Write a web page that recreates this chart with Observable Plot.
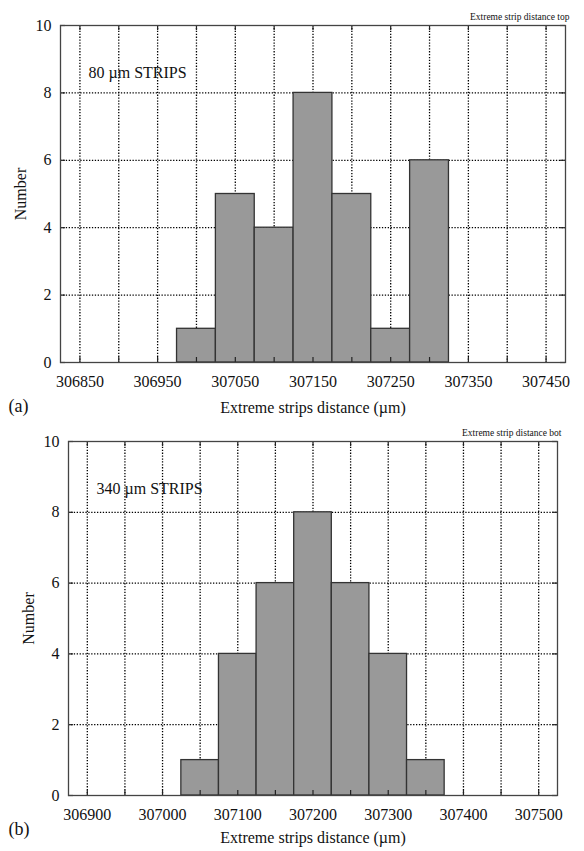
<!DOCTYPE html>
<html>
<head>
<meta charset="utf-8">
<script src="https://cdn.jsdelivr.net/npm/d3@7"></script>
<script src="https://cdn.jsdelivr.net/npm/@observablehq/plot@0.6"></script>
<style>
  html, body { margin: 0; padding: 0; background: #fff; }
  #wrap { width: 584px; height: 851px; position: relative; }
  #wrap svg { display: block; }
</style>
</head>
<body>
<div id="wrap"></div>
<script>
// ---- data ----
const binWidth = 50;
const binCentersTop = [307000, 307050, 307100, 307150, 307200, 307250, 307300];
const countsTop = [1, 5, 4, 8, 5, 1, 6];
const binCentersBot = [307050, 307100, 307150, 307200, 307250, 307300, 307350];
const countsBot = [1, 4, 6, 8, 6, 4, 1];
const xLabelTicksTop = [306850, 306950, 307050, 307150, 307250, 307350, 307450];
const xLabelTicksBot = [306900, 307000, 307100, 307200, 307300, 307400, 307500];
const xGridTop = d3.range(306850, 307451, 50);
const xGridBot = d3.range(306900, 307501, 50);
const yTicks = [0, 2, 4, 6, 8, 10];
const yGrid = [2, 4, 6, 8];
const xDomainTop = [306825, 307475];
const xDomainBot = [306875, 307525];

function hist({centers, counts, xDomain, labelTicks, gridTicks, height, margins, tag, strips, title}) {
  const data = centers.map((c, i) => ({x1: c - binWidth / 2, x2: c + binWidth / 2, n: counts[i]}));
  const plotH = height - margins.top - margins.bottom;
  const plotW = 584 - margins.left - margins.right;
  return Plot.plot({
    width: 584,
    height,
    marginTop: margins.top,
    marginBottom: margins.bottom,
    marginLeft: margins.left,
    marginRight: margins.right,
    style: {fontFamily: "'Liberation Serif', 'Times New Roman', serif", fontSize: "16px", color: "#111", background: "#fff"},
    x: {domain: xDomain, ticks: labelTicks, tickFormat: d => String(d), tickSize: 0, tickPadding: 13,
        label: "Extreme strips distance (µm)", labelAnchor: "center", labelOffset: margins.xLabelOffset, labelArrow: false},
    y: {domain: [0, 10], ticks: yTicks, tickSize: 0, tickPadding: 9,
        label: "Number", labelAnchor: "center", labelOffset: 46, labelArrow: false},
    marks: [
      Plot.ruleX(gridTicks, {stroke: "#000", strokeWidth: 1.3, strokeDasharray: "1.3,1.6"}),
      Plot.ruleY(yGrid, {stroke: "#000", strokeWidth: 1.3, strokeDasharray: "1.3,1.6"}),
      Plot.rectY(data, {x1: "x1", x2: "x2", y: "n", fill: "#999999", stroke: "#333", strokeWidth: 1.3}),
      Plot.tickX(gridTicks, {x: d => d, stroke: "#222", strokeWidth: 1.2, insetTop: plotH - 5}),
      Plot.tickX(gridTicks, {x: d => d, stroke: "#222", strokeWidth: 1.2, insetBottom: plotH - 5}),
      Plot.tickY(yTicks, {y: d => d, stroke: "#222", strokeWidth: 1.2, insetRight: plotW - 5}),
      Plot.tickY(yTicks, {y: d => d, stroke: "#222", strokeWidth: 1.2, insetLeft: plotW - 5}),
      Plot.frame({stroke: "#444", strokeWidth: 1.3}),
      Plot.text([strips], {frameAnchor: "top-left", dx: 28, dy: 41, textAnchor: "start", fontSize: 16, fill: "#111"}),
      Plot.text([title], {frameAnchor: "top-right", dx: 4, dy: -12, textAnchor: "end", fontSize: 9.5, fill: "#111"}),
      Plot.text([tag], {frameAnchor: "bottom-left", dx: -margins.left + 8, dy: margins.tagDy, textAnchor: "start", fontSize: 18, fill: "#111"})
    ]
  });
}

const wrap = document.getElementById("wrap");
wrap.appendChild(hist({
  centers: binCentersTop, counts: countsTop, xDomain: xDomainTop,
  labelTicks: xLabelTicksTop, gridTicks: xGridTop, height: 425,
  margins: {top: 25, bottom: 63, left: 60, right: 19, xLabelOffset: 50, tagDy: 49},
  tag: "(a)", strips: "80 µm STRIPS", title: "Extreme strip distance top"
}));
wrap.appendChild(hist({
  centers: binCentersBot, counts: countsBot, xDomain: xDomainBot,
  labelTicks: xLabelTicksBot, gridTicks: xGridBot, height: 426,
  margins: {top: 16, bottom: 56, left: 68, right: 27, xLabelOffset: 47, tagDy: 39},
  tag: "(b)", strips: "340 µm STRIPS", title: "Extreme strip distance bot"
}));
</script>
</body>
</html>
